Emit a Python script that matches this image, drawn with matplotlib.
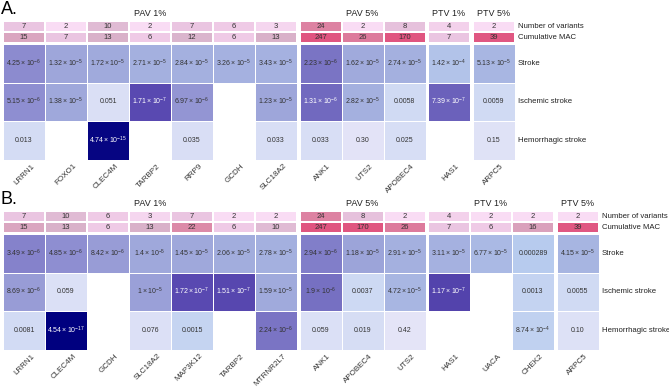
#!/usr/bin/env python3

import numpy as np
import matplotlib
matplotlib.use("Agg")
import matplotlib.pyplot as plt
from matplotlib.colors import LinearSegmentedColormap, LogNorm, Normalize

plt.rcParams['font.family'] = ['Liberation Sans', 'DejaVu Sans']
plt.rcParams['mathtext.fontset'] = 'custom'
plt.rcParams['mathtext.rm'] = 'Liberation Sans'
plt.rcParams['mathtext.it'] = 'Liberation Sans'

groups = ["PAV 1%", "PAV 5%", "PTV 1%", "PTV 5%"]
row_labels = ["Stroke", "Ischemic stroke", "Hemorrhagic stroke"]
count_labels = ["Number of variants", "Cumulative MAC"]

# panel A
a_sizes = [7, 3, 1, 1]
a_genes = ["LRRN1", "FOXO1", "CLEC4M", "TARBP2", "RRP9", "GCDH", "SLC18A2",
           "ANK1", "UTS2", "APOBEC4", "HAS1", "ARPC5"]
a_nvar = [7, 2, 10, 2, 7, 6, 3, 24, 2, 8, 4, 2]
a_mac = [15, 7, 13, 6, 12, 6, 13, 247, 26, 170, 7, 39]
a_stroke = ["4.25e-6", "1.32e-5", "1.72e-5", "2.71e-5", "2.84e-5", "3.26e-5", "3.43e-5",
            "2.23e-6", "1.62e-5", "2.74e-5", "1.42e-4", "5.13e-5"]
a_isch = ["5.15e-6", "1.38e-5", "0.051", "1.71e-7", "6.97e-6", "", "1.23e-5",
          "1.31e-6", "2.82e-5", "0.0058", "7.39e-7", "0.0059"]
a_hem = ["0.013", "", "4.74e-15", "", "0.035", "", "0.033",
         "0.033", "0.30", "0.025", "", "0.15"]

# panel B
b_sizes = [7, 3, 3, 1]
b_genes = ["LRRN1", "CLEC4M", "GCDH", "SLC18A2", "MAP3K12", "TARBP2", "MTRNR2L7",
           "ANK1", "APOBEC4", "UTS2", "HAS1", "UACA", "CHEK2", "ARPC5"]
b_nvar = [7, 10, 6, 3, 7, 2, 2, 24, 8, 2, 4, 2, 2, 2]
b_mac = [15, 13, 6, 13, 22, 6, 10, 247, 170, 26, 7, 6, 16, 39]
b_stroke = ["3.49e-6", "4.85e-6", "8.42e-6", "1.4e-5", "1.45e-5", "2.06e-5", "2.78e-5",
            "2.94e-6", "1.18e-5", "2.91e-5", "3.11e-5", "6.77e-5", "0.000289", "4.15e-5"]
b_isch = ["8.69e-6", "0.059", "", "1e-5", "1.72e-7", "1.51e-7", "1.59e-5",
          "1.9e-6", "0.0037", "4.72e-5", "1.17e-7", "", "0.0013", "0.0055"]
b_hem = ["0.0081", "4.54e-17", "", "0.076", "0.0015", "", "2.24e-6",
         "0.059", "0.019", "0.42", "", "", "8.74e-4", "0.10"]

W, H = 669, 387
pink = LinearSegmentedColormap.from_list("pink", [
    (0.0, "#f9dcf4"), (0.37, "#efcae6"), (0.61, "#d9b4cc"),
    (0.8, "#dc8aa8"), (1.0, "#e05580")])
pink_norm = LogNorm(vmin=2, vmax=40)
pv_nodes = [(0, "#e8e6f8"), (1.5, "#d8def5"), (2.3, "#cfdaf3"), (3.5, "#b8ccee"),
            (4.3, "#a8b6e2"), (4.9, "#9ea6da"), (5.4, "#8a88ce"), (5.7, "#7670c2"),
            (6.8, "#5848b0"), (7.2, "#4a3aa6"), (15, "#00007f")]
blue = LinearSegmentedColormap.from_list("pv", [(v / 15, c) for v, c in pv_nodes])
pv_norm = Normalize(0, 15)


def fmt(s):
    if "e" in s:
        m, e = s.split("e")
        return r"$%s\times10^{%d}$" % (m, int(e))
    return s


def px_axes(fig, x, y, w, h):
    ax = fig.add_axes([x / W, 1 - (y + h) / H, w / W, h / H])
    ax.set_axis_off()
    return ax


def panel(fig, letter, top, sizes, genes, nvar, mac, rows):
    x0, cw, gap = 3, 42, 2.5
    hh, ph = 11, 38.5
    fig.text(1 / W, 1 - (top - 7) / H, letter, fontsize=13, va="baseline")
    pvals = np.array([[float(v) if v else np.nan for v in r] for r in rows])
    start = 0
    x = x0
    for gi, n in enumerate(sizes):
        sl = slice(start, start + n)
        w = n * cw
        # counts
        axc = px_axes(fig, x, top, w, 2 * hh)
        cnt = np.array([nvar[sl], mac[sl]], dtype=float)
        axc.pcolormesh(np.arange(n + 1), np.arange(3), cnt, cmap=pink, norm=pink_norm,
                       edgecolors="white", linewidth=0.3)
        axc.set_xlim(0, n)
        axc.set_ylim(2, 0)
        for r in range(2):
            for c in range(n):
                axc.text(c + 0.5, r + 0.5, str(int(cnt[r, c])), ha="center", va="center",
                         fontsize=5.5, color="#333333")
        fig.text((x + w / 2) / W, 1 - (top - 8) / H, groups[gi], ha="center",
                 va="center", fontsize=6.5, color="#222222")
        # p-values
        axp = px_axes(fig, x, top + 2 * hh + 1, w, 3 * ph)
        pv = pvals[:, sl]
        z = np.ma.masked_invalid(-np.log10(pv))
        axp.pcolormesh(np.arange(n + 1), np.arange(4), z, cmap=blue, norm=pv_norm,
                       edgecolors="white", linewidth=0.5)
        axp.set_xlim(0, n)
        axp.set_ylim(3, 0)
        for r in range(3):
            for c in range(n):
                s = rows[r][start + c]
                if not s:
                    continue
                col = "white" if pv[r, c] < 1.5e-6 else "#333333"
                axp.text(c + 0.5, r + 0.5, fmt(s), ha="center", va="center",
                         fontsize=5, color=col)
        for c in range(n):
            cx = x + (c + 0.5) * cw + 7
            cy = top + 2 * hh + 1 + 3 * ph + 3
            fig.text(cx / W, 1 - cy / H, genes[start + c], rotation=45,
                     rotation_mode="anchor", ha="right", va="top", fontsize=5.8,
                     color="#333333")
        start += n
        x += w + gap
    lx = x - gap + 3
    for r, lab in enumerate(count_labels):
        fig.text(lx / W, 1 - (top + hh * (r + 0.5)) / H, lab, va="center",
                 fontsize=5.6, color="#222222")
    for r, lab in enumerate(row_labels):
        fig.text(lx / W, 1 - (top + 2 * hh + 1 + ph * (r + 0.5)) / H, lab,
                 va="center", fontsize=5.6, color="#222222")


def main():
    fig = plt.figure(figsize=(W / 100, H / 100), dpi=100)
    panel(fig, "A.", 21, a_sizes, a_genes, a_nvar, a_mac, [a_stroke, a_isch, a_hem])
    panel(fig, "B.", 211, b_sizes, b_genes, b_nvar, b_mac, [b_stroke, b_isch, b_hem])
    fig.savefig("out.png", dpi=100)


if __name__ == "__main__":
    main()
